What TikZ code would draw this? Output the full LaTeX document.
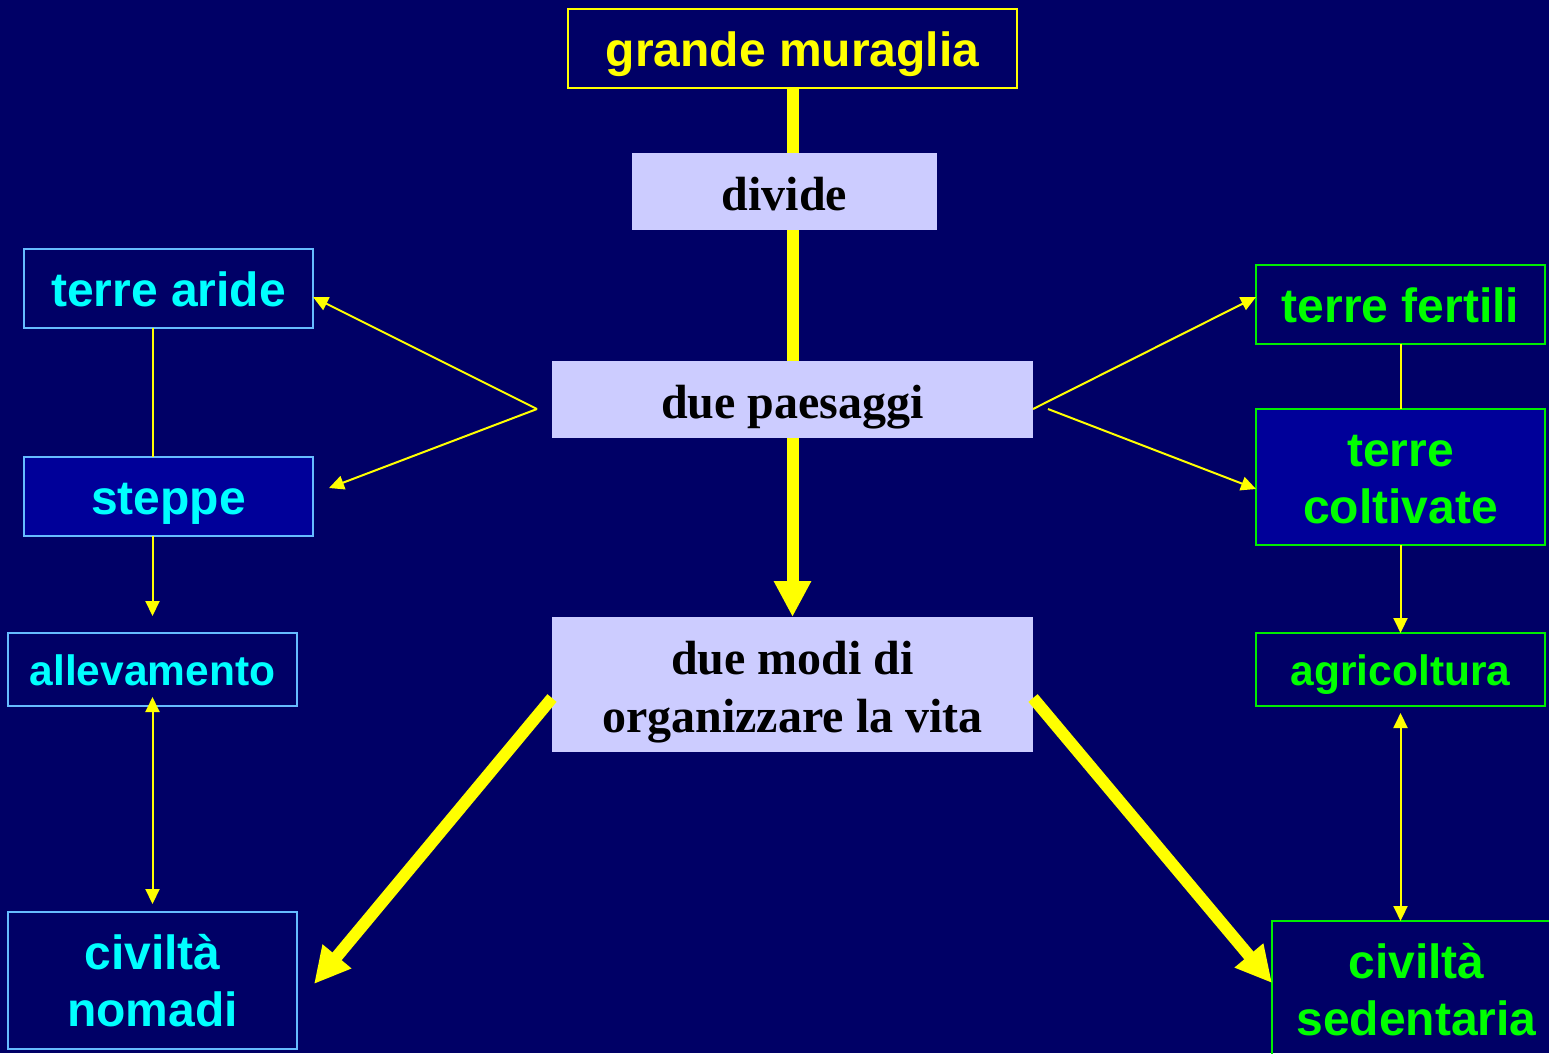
\documentclass[tikz,border=0pt]{standalone}
\usepackage{fontspec}
\setmainfont{Liberation Serif}
\setsansfont{Liberation Sans}
\usetikzlibrary{arrows.meta,calc}
\definecolor{bg}{HTML}{000066}
\definecolor{lav}{HTML}{CCCCFF}
\definecolor{darkfill}{HTML}{000099}
\definecolor{cyanborder}{HTML}{66BBFF}
\definecolor{cyantext}{HTML}{00FFFF}
\definecolor{grn}{HTML}{00EE00}
\definecolor{grntext}{HTML}{00FF00}
\definecolor{yel}{HTML}{FFFF00}
\newcommand\sAr{\rule{0pt}{0.945em}}
\newcommand\sDr{\rule[-0.212em]{0pt}{0.212em}}
\newcommand\sAt{\rule{0pt}{0.995em}}
\newcommand\sDt{\rule[-0.216em]{0pt}{0.216em}}
\begin{document}
\begin{tikzpicture}[x=1pt,y=-1pt,
  basebox/.style={inner sep=0pt, outer sep=0pt, align=center, line width=2pt},
  sansbox/.style={basebox, font={\fontsize{48}{57}\selectfont\sffamily\bfseries}},
  smallsans/.style={basebox, font={\fontsize{42.5}{51}\selectfont\sffamily\bfseries}},
  lavbox/.style={basebox, fill=lav, text=black, font={\fontsize{48}{58}\selectfont\rmfamily\bfseries}},
  cyanbox/.style={draw=cyanborder, text=cyantext},
  greenbox/.style={draw=grn, text=grntext},
  bigline/.style={draw=yel, line width=12pt},
  bigarrow/.style={bigline, -{Triangle[length=36pt,width=35pt]}},
  smallline/.style={draw=yel, line width=2pt},
  smallarrow/.style={smallline, -{Triangle[length=15pt,width=14pt]}},
  smalldouble/.style={smallline, {Triangle[length=15pt,width=14pt]}-{Triangle[length=15pt,width=14pt]}},
]
\useasboundingbox (0,0) rectangle (1549,1053);
\fill[bg] (0,0) rectangle (1549,1053);

% central column
\node[sansbox, draw=yel, text=yel, minimum width=449pt, minimum height=79pt] (muraglia) at (792.5,48.5) {\sAr grande muraglia\sDr};
\node[lavbox, minimum width=305pt, minimum height=77pt] (divide) at (784.5,191.5) {\sAt divide\sDt};
\node[lavbox, minimum width=481pt, minimum height=77pt] (paesaggi) at (792.5,399.5) {\sAt due paesaggi\sDt};
\node[lavbox, minimum width=481pt, minimum height=135pt] (modi) at (792.5,684.5) {\sAt due modi di\\organizzare la vita\sDt};

% left column
\node[sansbox, cyanbox, minimum width=289pt, minimum height=79pt] (aride) at (168.5,288.5) {\sAr terre aride\sDr};
\node[sansbox, cyanbox, fill=darkfill, minimum width=289pt, minimum height=79pt] (steppe) at (168.5,496.5) {\sAr steppe\sDr};
\node[smallsans, cyanbox, minimum width=289pt, minimum height=73pt] (alleva) at (152.5,669.5) {\sAr allevamento\sDr};
\node[sansbox, cyanbox, minimum width=289pt, minimum height=137pt] (nomadi) at (152.5,980.5) {\sAr civiltà\\nomadi\sDr};

% right column
\node[sansbox, greenbox, minimum width=289pt, minimum height=79pt] (fertili) at (1400.5,304.5) {\sAr terre fertili\sDr};
\node[sansbox, greenbox, fill=darkfill, minimum width=289pt, minimum height=136pt] (coltivate) at (1400.5,477) {\sAr terre\\coltivate\sDr};
\node[smallsans, greenbox, minimum width=289pt, minimum height=73pt] (agri) at (1400.5,669.5) {\sAr agricoltura\sDr};
\node[sansbox, greenbox, minimum width=289pt, minimum height=137pt] (sedent) at (1416.5,989.5) {\sAr civiltà\\sedentaria\sDr};

% helper points
\coordinate (pl) at ($(paesaggi.west)+(-15,9.5)$);
\coordinate (pr1) at ($(paesaggi.east)+(0,9.5)$);
\coordinate (pr2) at ($(paesaggi.east)+(15,9.5)$);
\coordinate (ml) at ($(modi.west)+(0,13.5)$);
\coordinate (mr) at ($(modi.east)+(0,13.5)$);
\coordinate (tipnomadi) at ($(nomadi.east)+(17,3.5)$);
\coordinate (tipsedent) at ($(sedent.west)+(0,-6.5)$);
\coordinate (tiparide) at ($(aride.east)+(0,8.5)$);
\coordinate (tipsteppe) at ($(steppe.east)+(16,-8.5)$);
\coordinate (tipfertili) at ($(fertili.west)+(0,-7.5)$);
\coordinate (tipcolt) at ($(coltivate.west)+(0,12)$);

% thick connectors
\draw[bigline] (muraglia.south) -- (muraglia.south |- divide.north);
\draw[bigline] (muraglia.south |- divide.south) -- (paesaggi.north);
\draw[bigarrow] (paesaggi.south) -- (modi.north);
\draw[bigarrow] (ml) -- (tipnomadi);
\draw[bigarrow] (mr) -- (tipsedent);

% thin connectors
\draw[smallarrow] (pl) -- (tiparide);
\draw[smallarrow] (pl) -- (tipsteppe);
\draw[smallarrow] (pr1) -- (tipfertili);
\draw[smallarrow] (pr2) -- (tipcolt);

\draw[smallline] ($(aride.south)+(-16,0)$) -- ($(steppe.north)+(-16,0)$);
\draw[smallarrow] ($(steppe.south)+(-16,0)$) -- ($(alleva.north)+(0,-17)$);
\draw[smalldouble] ($(alleva.south)+(0,-9)$) -- ($(nomadi.north)+(0,-8)$);

\draw[smallline] (fertili.south) -- (coltivate.north);
\draw[smallarrow] (coltivate.south) -- (agri.north);
\draw[smalldouble] ($(agri.south)+(0,7)$) -- ($(agri.south |- sedent.north)$);
\end{tikzpicture}
\end{document}
